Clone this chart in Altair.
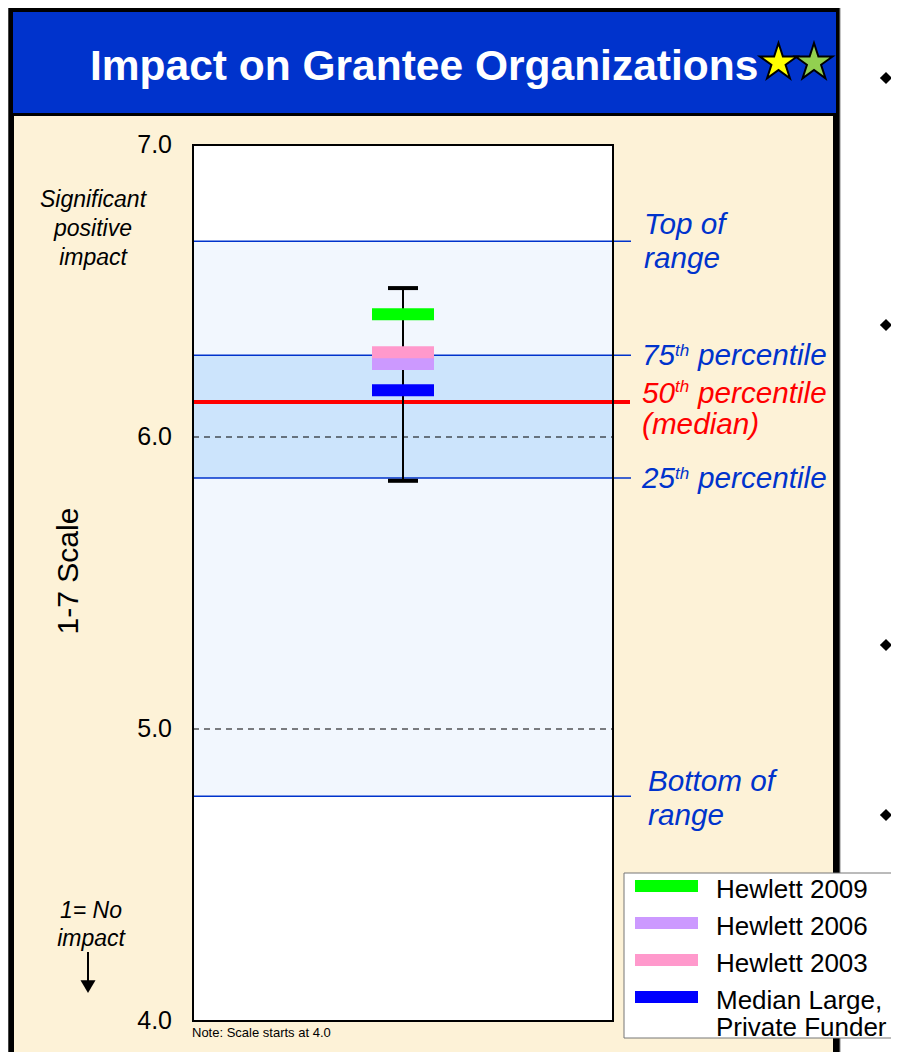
import altair as alt
import pandas as pd

# ---------------- data ----------------
scale_ticks = [4.0, 5.0, 6.0, 7.0]
gridlines = [5.0, 6.0]
range_top = 6.67
pct75 = 6.28
pct50 = 6.12
pct25 = 5.86
range_bottom = 4.77
whisker = [5.85, 6.51]
series = ["Hewlett 2009", "Hewlett 2006", "Hewlett 2003", "Median Large, Private Funder"]
series_values = [6.42, 6.25, 6.29, 6.16]
series_colors = ["#00FF00", "#CC99FF", "#FF99CC", "#0000FF"]

# ---------------- layout ----------------
W, H = 420, 876          # plot area
OX, OY = 193, 145        # plot origin on the page
TOTAL_W, TOTAL_H = 883, 1044
FONT = "Liberation Sans"
BLUE = "#0033CC"


def px(x):
    return x - OX


def py(y):
    return y - OY


one = pd.DataFrame({"k": [0]})


def box(x1, y1, x2, y2, **kw):
    return alt.Chart(one).mark_rect(**kw).encode(
        x=alt.value(px(x1)), x2=alt.value(px(x2)),
        y=alt.value(py(y1)), y2=alt.value(py(y2)))


def label(text, x, y, **kw):
    return alt.Chart(one).mark_text(text=text, font=FONT, **kw).encode(
        x=alt.value(px(x)), y=alt.value(py(y)))


yscale = alt.Scale(domain=[4, 7], nice=False, zero=False)
X = alt.X("grp:N", scale=alt.Scale(type="point"), axis=None)
color = alt.Color("series:N", scale=alt.Scale(domain=series, range=series_colors), legend=None)


def Y(field="value"):
    return alt.Y(f"{field}:Q", scale=yscale, axis=None)


STAR = ("M0,-1 L0.225,-0.309 L0.951,-0.309 L0.363,0.118 L0.588,0.809 L0,0.382 "
        "L-0.588,0.809 L-0.363,0.118 L-0.951,-0.309 L-0.225,-0.309 Z")
TRI = "M-1,-0.85 L1,-0.85 L0,0.85 Z"

layers = []
# slide frame
layers.append(box(8, 6, 840, 1200, fill="black", stroke="#8a8a8a", strokeWidth=1))
layers.append(box(13, 12, 836, 113, fill=BLUE))
layers.append(box(14, 116, 833, 1200, fill="#FDF2D7"))
layers.append(box(OX, OY, OX + W, OY + H, fill="white"))

# title and stars
layers.append(label("Impact on Grantee Organizations", 90, 80, fontSize=42.5,
                    fontWeight="bold", color="white", align="left", baseline="alphabetic"))
for cx, col in [(778.5, "#FFFF00"), (814, "#92D050")]:
    layers.append(alt.Chart(one).mark_point(shape=STAR, size=1520, filled=True, fill=col,
                                            stroke="black", strokeWidth=2, opacity=1)
                  .encode(x=alt.value(px(cx)), y=alt.value(py(62.5))))
# bullets at right of slide
for by in [78, 325, 645, 815]:
    layers.append(alt.Chart(one).mark_point(shape="diamond", size=150, filled=True,
                                            color="black", opacity=1)
                  .encode(x=alt.value(px(886)), y=alt.value(py(by))))

# range band and interquartile band
band_df = pd.DataFrame({"lo": [range_bottom], "hi": [range_top]})
layers.append(alt.Chart(band_df).mark_rect(fill="#F2F7FE").encode(
    x=alt.value(0), x2=alt.value(W), y=Y("lo"), y2="hi:Q"))
iqr_df = pd.DataFrame({"lo": [pct25], "hi": [pct75]})
layers.append(alt.Chart(iqr_df).mark_rect(fill="#CCE4FC").encode(
    x=alt.value(0), x2=alt.value(W), y=Y("lo"), y2="hi:Q"))

# dashed gridlines
layers.append(alt.Chart(pd.DataFrame({"value": gridlines})).mark_rule(
    color="black", strokeWidth=1.2, strokeDash=[6, 5]).encode(
    y=Y(), x=alt.value(0), x2=alt.value(W)))

# reference lines
layers.append(alt.Chart(pd.DataFrame({"value": [range_top, pct75, pct25, range_bottom]})).mark_rule(
    color=BLUE, strokeWidth=1.5).encode(y=Y(), x=alt.value(0), x2=alt.value(438)))
layers.append(alt.Chart(pd.DataFrame({"value": [pct50]})).mark_rule(
    color="#FF0000", strokeWidth=4).encode(y=Y(), x=alt.value(0), x2=alt.value(437)))

# whisker
wr = pd.DataFrame({"lo": [whisker[0]], "hi": [whisker[1]]})
layers.append(alt.Chart(wr).transform_calculate(grp="'g'").mark_rule(
    color="black", strokeWidth=2).encode(x=X, y=Y("lo"), y2="hi:Q"))
layers.append(alt.Chart(pd.DataFrame({"value": whisker})).transform_calculate(grp="'g'").mark_tick(
    orient="horizontal", size=30, thickness=4, color="black", opacity=1).encode(x=X, y=Y()))

# score bars
sdf = pd.DataFrame({"series": series, "value": series_values})
layers.append(alt.Chart(sdf).transform_calculate(grp="'g'").mark_tick(
    orient="horizontal", size=62, thickness=12, opacity=1).encode(x=X, y=Y(), color=color))

# plot border
layers.append(box(OX, OY, OX + W, OY + H, fillOpacity=0, stroke="black", strokeWidth=2))

# y axis labels and title
layers.append(alt.Chart(pd.DataFrame({"value": scale_ticks})).mark_text(
    font=FONT, fontSize=25, align="right", baseline="middle", color="black").encode(
    y=Y(), x=alt.value(px(172)), text=alt.Text("value:Q", format=".1f")))
layers.append(label("1-7 Scale", 69, 571, fontSize=30, angle=270, align="center",
                    baseline="middle", color="black"))

# right annotations
ann = dict(font=FONT, fontStyle="italic", fontSize=29.7, align="left", baseline="alphabetic")
layers.append(alt.Chart(pd.DataFrame({"value": [range_top], "t": ["Top of\nrange"]})).mark_text(
    color=BLUE, dy=-7, lineBreak="\n", lineHeight=34, **ann).encode(
    y=Y(), x=alt.value(px(644)), text="t:N"))
layers.append(alt.Chart(pd.DataFrame({"value": [range_bottom], "t": ["Bottom of\nrange"]})).mark_text(
    color=BLUE, dy=-5, lineBreak="\n", lineHeight=34, **ann).encode(
    y=Y(), x=alt.value(px(648)), text="t:N"))

pct_df = pd.DataFrame({"value": [pct75, pct25], "num": ["75", "25"]})
med_df = pd.DataFrame({"value": [pct50], "num": ["50"]})
for df, col, dnum, dsup in [(pct_df, BLUE, 10, 1), (med_df, "#FF0000", 1, -10)]:
    layers.append(alt.Chart(df).mark_text(color=col, dy=dnum, **ann).encode(
        y=Y(), x=alt.value(px(642)), text="num:N"))
    sup = dict(ann, fontSize=17)
    layers.append(alt.Chart(df).mark_text(color=col, dy=dsup, text="th", **sup).encode(
        y=Y(), x=alt.value(px(675))))
    layers.append(alt.Chart(df).mark_text(color=col, dy=dnum, text="percentile", **ann).encode(
        y=Y(), x=alt.value(px(698))))
layers.append(alt.Chart(med_df).mark_text(color="#FF0000", dy=32, text="(median)", **ann).encode(
    y=Y(), x=alt.value(px(642))))

# left annotations
lt = dict(fontStyle="italic", fontSize=23, align="center", baseline="alphabetic",
          color="black", lineBreak="\n")
layers.append(label("Significant\npositive\nimpact", 93, 207, lineHeight=29, **lt))
layers.append(label("1= No\nimpact", 91, 918, lineHeight=28, **lt))
layers.append(alt.Chart(one).mark_rule(color="black", strokeWidth=2).encode(
    x=alt.value(px(88)), y=alt.value(py(952)), y2=alt.value(py(982))))
layers.append(alt.Chart(one).mark_point(shape=TRI, size=225, filled=True, color="black",
                                        opacity=1)
              .encode(x=alt.value(px(88)), y=alt.value(py(986.5))))
layers.append(label("Note: Scale starts at 4.0", 192, 1037, fontSize=13, color="black",
                    align="left", baseline="alphabetic"))

main = alt.layer(*layers)

# legend (own row scale)
leg_df = pd.DataFrame({"series": series})
rows = alt.Y("series:N", scale=alt.Scale(type="point", domain=series,
                                         range=[py(886), py(997)], padding=0), axis=None)
legend = alt.layer(
    box(624, 873, 930, 1038, fill="white", stroke="#777777", strokeWidth=1),
    alt.Chart(leg_df).mark_tick(orient="horizontal", size=63, thickness=12, opacity=1).encode(
        x=alt.value(px(666.5)), y=rows, color=color),
    alt.Chart(leg_df).transform_calculate(lab="replace(datum.series, ', ', ',\\n')").mark_text(
        font=FONT, fontSize=26, align="left", baseline="alphabetic", dy=12,
        lineBreak="\n", lineHeight=27, color="black").encode(
        x=alt.value(px(716)), y=rows, text="lab:N"),
)

chart = alt.layer(main, legend).resolve_scale(y="independent").properties(
    width=W, height=H,
    padding={"left": OX - 8, "top": OY - 8,
             "right": TOTAL_W - (OX - 8) - W, "bottom": TOTAL_H - (OY - 8) - H},
    autosize=alt.AutoSizeParams(type="none"),
    background="white",
).configure_view(strokeWidth=0)

chart.save("out.html", embed_options={"renderer": "svg", "actions": False})
